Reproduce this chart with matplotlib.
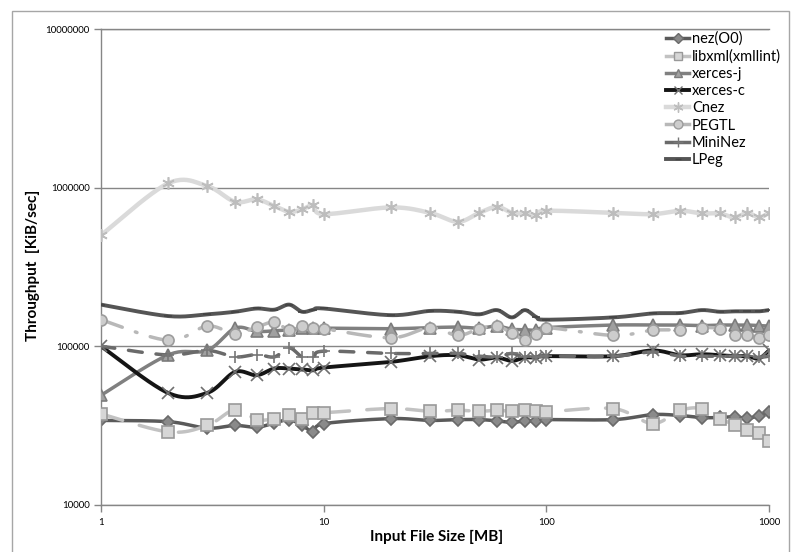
import numpy as np
import matplotlib
matplotlib.use("Agg")
import matplotlib.pyplot as plt
from matplotlib.lines import Line2D
from matplotlib.patches import Rectangle

plt.rcParams['font.family'] = ['Lato', 'DejaVu Sans']

# input file size [MB]
sizes = [1, 2, 3, 4, 5, 6, 7, 8, 9, 10,
         20, 30, 40, 50, 60, 70, 80, 90, 100,
         200, 300, 400, 500, 600, 700, 800, 900, 1000]

# throughput [KiB/sec]
nez = [34000, 33400, 30400, 31600, 30800, 32700, 34400, 31600, 28800, 32400,
       34900, 34000, 34400, 34400, 33800, 33000, 33800, 33800, 34400,
       34400, 37000, 36500, 35400, 35500, 35900, 35000, 36500, 38500]
libxml = [37400, 28800, 31600, 39800, 34400, 34900, 37000, 34900, 38000, 38000,
          40400, 38800, 39400, 38800, 39400, 38800, 39800, 38800, 38500,
          40400, 32500, 39400, 40400, 34900, 32000, 29600, 28300, 25200]
xerces_j = [49000, 88000, 94000, 130000, 124000, 125000, 127000, 130000, 130000, 130000,
            129000, 131000, 132000, 130000, 134000, 128000, 127000, 126000, 131000,
            136000, 136000, 136000, 135000, 136000, 136000, 136000, 135000, 134000]
xerces_c = [100000, 50700, 50700, 68800, 65600, 72300, 72300, 71300, 70500, 73300,
            79600, 86500, 87700, 82400, 84800, 80800, 84800, 84800, 86500,
            86500, 94000, 87700, 89000, 87700, 86500, 86500, 83600, 94000]
cnez = [502000, 1066000, 1025000, 816000, 845000, 767000, 706000, 730000, 778000, 682000,
        752000, 695000, 610000, 695000, 758000, 695000, 689000, 672000, 716000,
        695000, 682000, 716000, 689000, 689000, 650000, 695000, 650000, 695000]
pegtl = [147000, 109000, 134000, 120000, 132000, 142000, 126000, 134000, 131000, 129000,
         113000, 131000, 117000, 129000, 134000, 121000, 110000, 120000, 131000,
         117000, 126000, 127000, 131000, 129000, 117000, 117000, 113000, 117000]
mininez = [100000, 88000, 94000, 85600, 88600, 85600, 97500, 85600, 85600, 93000,
           90000, 90000, 90000, 86500, 85600, 90000, 85000, 85000, 86500,
           86500, 92000, 86500, 86500, 86500, 86500, 86500, 85000, 86500]
lpeg = [183000, 155000, 159000, 165000, 173000, 170000, 183000, 165000, 170000, 173000,
        157000, 167000, 165000, 159000, 169000, 152000, 169000, 153000, 147000,
        152000, 161000, 162000, 169000, 165000, 166000, 166000, 166000, 169000]

labels = ['nez(O0)', 'libxml(xmllint)', 'xerces-j', 'xerces-c', 'Cnez', 'PEGTL', 'MiniNez', 'LPeg']
series = [nez, libxml, xerces_j, xerces_c, cnez, pegtl, mininez, lpeg]

# line style, marker style per series (excel-ish greys)
styles = [
    dict(color='#5a5a5a', lw=2.5, ls='-', marker='D', ms=6, mfc='#8a8a8a', mec='#6a6a6a'),
    dict(color='#c2c2c2', lw=2.5, ls=(0, (6.5, 5)), marker='s', ms=8, mfc='#d6d6d6', mec='#999999'),
    dict(color='#808080', lw=2.5, ls='-', marker='^', ms=8, mfc='#a0a0a0', mec='#7c7c7c'),
    dict(color='#151515', lw=2.8, ls='-', marker='x', ms=8, mfc='#707070', mec='#707070'),
    dict(color='#dadada', lw=3.2, ls='-', marker=(6, 2, 0), ms=9, mfc='#bdbdbd', mec='#bdbdbd'),
    dict(color='#b8b8b8', lw=2.5, ls=(0, (6.5, 4, 0.5, 4)), marker='o', ms=8, mfc='#cdcdcd', mec='#9c9c9c'),
    dict(color='#6a6a6a', lw=2.5, ls=(0, (4, 4)), marker='+', ms=9, mfc='#777777', mec='#777777'),
    dict(color='#555555', lw=2.8, ls='-', marker='_', ms=6, mfc='#444444', mec='#444444'),
]


def smooth(xs, ys, n=24):
    # excel-like smoothed line: bezier through the points in log-log space
    P = np.column_stack([np.log10(xs), np.log10(ys)])
    P = np.vstack([P[0], P, P[-1]])
    t = np.linspace(0, 1, n, endpoint=False)[:, None]
    out = []
    for i in range(1, len(P) - 2):
        p0, p1, p2, p3 = P[i - 1], P[i], P[i + 1], P[i + 2]
        c1 = p1 + (p2 - p0) / 6.0
        c2 = p2 - (p3 - p1) / 6.0
        out.append((1 - t) ** 3 * p1 + 3 * (1 - t) ** 2 * t * c1 + 3 * (1 - t) * t ** 2 * c2 + t ** 3 * p2)
    out.append(P[-2][None])
    out = np.vstack(out)
    return 10 ** out[:, 0], 10 ** out[:, 1]


fig = plt.figure(figsize=(7.91, 5.52), dpi=100)
ax = fig.add_axes([101 / 791, 47.4 / 552, 668 / 791, 475.2 / 552])

handles = []
for k, (lab, ys, st) in enumerate(zip(labels, series, styles)):
    sx, sy = smooth(sizes, ys)
    ax.plot(sx, sy, color=st['color'], lw=st['lw'], ls=st['ls'], zorder=2 + k,
            solid_capstyle='round', dash_capstyle='round')
    ax.plot(sizes, ys, ls='none', marker=st['marker'], ms=st['ms'], mfc=st['mfc'],
            mec=st['mec'], mew=1.2, zorder=2 + k)
    handles.append(Line2D([], [], color=st['color'], lw=st['lw'], ls='-',
                          marker=st['marker'], ms=st['ms'] * 0.8, mfc=st['mfc'],
                          mec=st['mec'], mew=1.0, label=lab))

ax.set_xscale('log')
ax.set_yscale('log')
ax.set_xlim(1, 1000)
ax.set_ylim(10000, 10000000)
ax.set_xticks([1, 10, 100, 1000])
ax.set_xticklabels(['1', '10', '100', '1000'])
ax.set_yticks([10000, 100000, 1000000, 10000000])
ax.set_yticklabels(['10000', '100000', '1000000', '10000000'])
ax.minorticks_off()
ax.tick_params(axis='both', direction='out', length=5, width=1, color='#868686',
               labelsize=7, pad=3)
ax.tick_params(axis='x', pad=5)

for s in ['left', 'bottom', 'top']:
    ax.spines[s].set_color('#868686')
    ax.spines[s].set_linewidth(1)
ax.spines['right'].set_visible(False)
ax.grid(axis='y', color='#868686', lw=1)
ax.set_axisbelow(True)

leg = fig.legend(handles=handles, loc='upper left', bbox_to_anchor=(660 / 791, 1 - 26 / 552),
                 frameon=False, fontsize=10.5, handlelength=1.6, handletextpad=0.2,
                 labelspacing=0.22, borderaxespad=0)

fig.text(437 / 791, 1 - 537 / 552, 'Input File Size [MB]', ha='center', va='center',
         fontsize=11, fontweight='bold')
fig.text(33 / 791, 1 - 265 / 552, 'Throughput  [KiB/sec]', ha='center', va='center',
         rotation=90, fontsize=11, fontweight='bold')

fig.patches.append(Rectangle((12 / 791, -0.02), 777 / 791, 1 - 11 / 552 + 0.02,
                             transform=fig.transFigure, fill=False, ec='#a6a6a6', lw=1))

fig.savefig('out.png', dpi=100)
